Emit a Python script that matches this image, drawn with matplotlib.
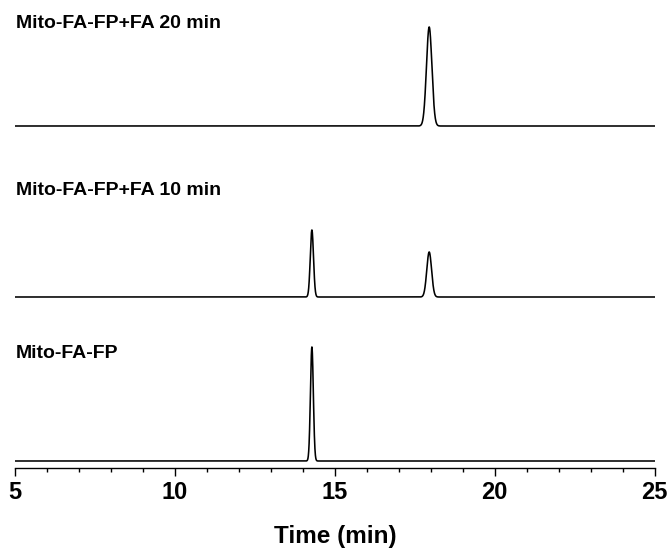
import numpy as np
import matplotlib
matplotlib.use("Agg")
import matplotlib.pyplot as plt

# Data: peak lists per trace (retention time, height, width sigma)
trace_labels = ["Mito-FA-FP+FA 20 min", "Mito-FA-FP+FA 10 min", "Mito-FA-FP"]
trace_offsets = [425, 254, 90]
peak_times = [[17.95], [14.28, 17.95], [14.28]]
peak_heights = [[99], [67, 45], [114]]
peak_sigmas = [[0.085], [0.05, 0.075], [0.045]]
x_ticks = [5, 10, 15, 20, 25]

plt.rcParams['font.family'] = ["Liberation Sans", "DejaVu Sans"]

W, H = 672, 551
fig = plt.figure(figsize=(W/100, H/100), dpi=100)
ax = fig.add_axes([15.3/W, (H-468)/H, (654.5-15.3)/W, (468-10)/H])

t = np.linspace(5, 25, 8001)
for lab, off, pt, ph, ps in zip(trace_labels, trace_offsets, peak_times, peak_heights, peak_sigmas):
    y = np.full_like(t, float(off))
    for c, h, s in zip(pt, ph, ps):
        y += h * np.exp(-0.5 * ((t - c) / s) ** 2)
    ax.plot(t, y, color="black", lw=1.15)

ax.set_xlim(5, 25)
ax.set_ylim(H-468, H-10)
for s in ["top", "right", "left"]:
    ax.spines[s].set_visible(False)
ax.spines["bottom"].set_linewidth(1.0)
ax.set_yticks([])
ax.set_xticks(x_ticks)
ax.set_xticks(np.arange(5, 26, 1), minor=True)
ax.tick_params(axis="x", which="major", length=6, width=1.0, direction="out", labelsize=17, pad=3.5)
ax.tick_params(axis="x", which="minor", length=3, width=1.0, direction="out")
for lbl in ax.get_xticklabels():
    lbl.set_fontweight("bold")
ax.set_xlabel("Time (min)", fontsize=17.5, fontweight="bold", labelpad=15)

label_base = [28, 195, 358]
for lab, by in zip(trace_labels, label_base):
    fig.text(16/W, (H-by)/H, lab, fontsize=14, fontweight="bold", va="baseline", ha="left")

fig.savefig("out.png", dpi=100)
